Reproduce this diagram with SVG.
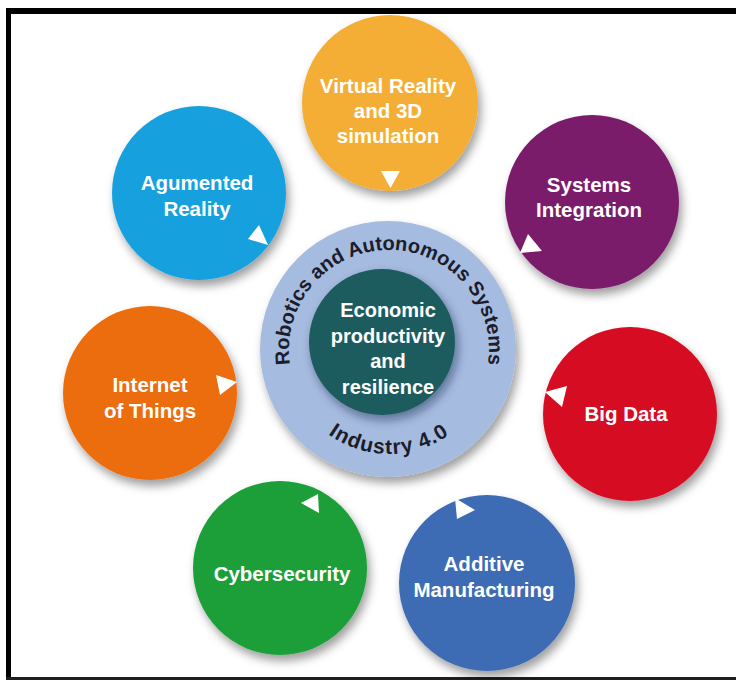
<svg xmlns="http://www.w3.org/2000/svg" width="736" height="680" viewBox="0 0 736 680">
  <style>
    .label { font-family: "Liberation Sans", Arial, sans-serif; font-weight: bold; font-size: 20.5px; fill: #ffffff; text-anchor: middle; }
    .core { font-family: "Liberation Sans", Arial, sans-serif; font-weight: bold; font-size: 20px; fill: #ffffff; text-anchor: middle; }
    .ringtext { font-family: "Liberation Sans", Arial, sans-serif; font-weight: bold; font-size: 20px; fill: #1c1d2a; }
    .ringlow { font-family: "Liberation Sans", Arial, sans-serif; font-weight: bold; font-size: 21px; letter-spacing: 1px; fill: #1c1d2a; }
    .tri { fill: #ffffff; }
    .bubble { filter: url(#shadow); }
  </style>
  <defs>
    <filter id="shadow" x="-25%" y="-25%" width="160%" height="160%">
      <feDropShadow dx="3" dy="6" stdDeviation="5" flood-color="#000000" flood-opacity="0.38"/>
    </filter>
    <filter id="innerShadow" x="-25%" y="-25%" width="160%" height="160%">
      <feDropShadow dx="3" dy="5" stdDeviation="5" flood-color="#0c1c3a" flood-opacity="0.45"/>
    </filter>
    <!-- baselines for the curved ring captions -->
    <path id="arcTop" d="M 290 364 A 100 100 0 1 1 488 364"/>
    <path id="arcBottom" d="M 285 350 A 104 104 0 0 0 493 350"/>
  </defs>

  <!-- page background and frame -->
  <rect x="0" y="0" width="736" height="680" fill="#ffffff"/>
  <rect x="6" y="8" width="730" height="6" fill="#000000"/>
  <rect x="6" y="8" width="5" height="672" fill="#000000"/>
  <rect x="6" y="677" width="730" height="3" fill="#1e1e1e"/>

  <!-- central hub -->
  <g id="hub">
    <circle class="bubble" cx="388" cy="349" r="128" fill="#a5bbdf"/>
    <circle cx="382" cy="342" r="73" fill="#1f5b5f" filter="url(#innerShadow)"/>
    <text class="ringtext"><textPath href="#arcTop" startOffset="50%" text-anchor="middle">Robotics and Autonomous Systems</textPath></text>
    <text class="ringlow"><textPath href="#arcBottom" startOffset="50%" text-anchor="middle">Industry 4.0</textPath></text>
    <text class="core" x="388" y="317">Economic</text>
    <text class="core" x="388" y="342.5">productivity</text>
    <text class="core" x="388" y="368">and</text>
    <text class="core" x="388" y="393.5">resilience</text>
  </g>

  <g id="virtual-reality">
    <circle class="bubble" cx="390" cy="103" r="88" fill="#f5ae35"/>
    <text class="label" x="388" y="93">Virtual Reality</text>
    <text class="label" x="388" y="118">and 3D</text>
    <text class="label" x="388" y="143">simulation</text>
    <polygon class="tri" points="381,171 400,171 390.5,188"/>
  </g>

  <g id="augmented-reality">
    <circle class="bubble" cx="199" cy="193" r="87" fill="#16a0de"/>
    <text class="label" x="197" y="190">Agumented</text>
    <text class="label" x="197" y="216">Reality</text>
    <polygon class="tri" points="248,239 259,225 268,245"/>
  </g>

  <g id="systems-integration">
    <circle class="bubble" cx="592" cy="202" r="87" fill="#7a1a6b"/>
    <text class="label" x="589" y="192">Systems</text>
    <text class="label" x="589" y="217">Integration</text>
    <polygon class="tri" points="528,234 542,251 520,253"/>
  </g>

  <g id="internet-of-things">
    <circle class="bubble" cx="150" cy="393" r="87" fill="#ec6d10"/>
    <text class="label" x="150" y="392">Internet</text>
    <text class="label" x="150" y="418">of Things</text>
    <polygon class="tri" points="216,375 237,382 220,395"/>
  </g>

  <g id="big-data">
    <circle class="bubble" cx="630" cy="414" r="87" fill="#d60b22"/>
    <text class="label" x="626" y="421">Big Data</text>
    <polygon class="tri" points="567,386 562,407 545,392"/>
  </g>

  <g id="cybersecurity">
    <circle class="bubble" cx="280" cy="568" r="87" fill="#1e9e38"/>
    <text class="label" x="282" y="581">Cybersecurity</text>
    <polygon class="tri" points="318,494 319,513 301,503"/>
  </g>

  <g id="additive-manufacturing">
    <circle class="bubble" cx="487" cy="583" r="88" fill="#3c6cb4"/>
    <text class="label" x="484" y="571">Additive</text>
    <text class="label" x="484" y="597">Manufacturing</text>
    <polygon class="tri" points="455,498 475,510 457,519"/>
  </g>
</svg>
